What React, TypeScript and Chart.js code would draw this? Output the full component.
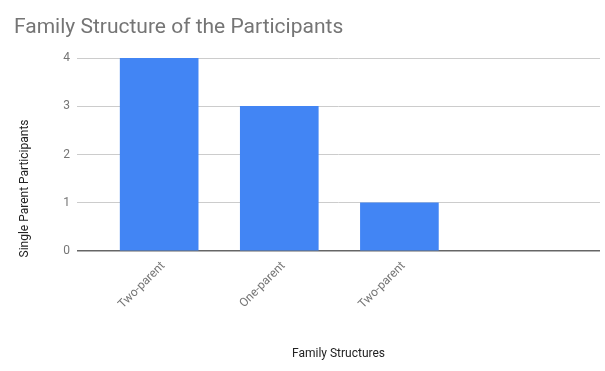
import React, { useEffect, useRef } from "react";
import { Chart, registerables } from "chart.js";

Chart.register(...registerables);

const categories = ["Two-parent", "One-parent", "Two-parent"];
const values = [4, 3, 1];
const yTicks = [0, 1, 2, 3, 4];
const chartTitle = "Family Structure of the Participants";
const xTitle = "Family Structures";
const yTitle = "Single Parent Participants";

const FONT = "Roboto, 'Noto Sans', Arial, sans-serif";

const titlesPlugin = {
  id: "titlesPlugin",
  afterDraw(chart: any) {
    const ctx = chart.ctx;
    const area = chart.chartArea;
    ctx.save();
    ctx.fillStyle = "#757575";
    ctx.font = `21px ${FONT}`;
    ctx.textAlign = "left";
    ctx.textBaseline = "alphabetic";
    ctx.fillText(chartTitle, 14, 33);

    ctx.fillStyle = "#222222";
    ctx.font = `12px ${FONT}`;
    ctx.textAlign = "center";
    ctx.fillText(xTitle, (area.left + area.right) / 2, 357);

    ctx.translate(28, 188.5);
    ctx.rotate(-Math.PI / 2);
    ctx.fillText(yTitle, 0, 0);
    ctx.restore();
  },
};

export default function App() {
  const ref = useRef<HTMLCanvasElement>(null);
  useEffect(() => {
    document.body.style.margin = "0";
    const chart = new Chart(ref.current!, {
      type: "bar",
      data: {
        datasets: [
          {
            data: values.map((v, i) => ({ x: i + 1, y: v })),
            backgroundColor: "#4285F4",
            borderWidth: 0,
            barThickness: 78,
          },
        ],
      },
      options: {
        animation: false,
        responsive: false,
        devicePixelRatio: 1,
        layout: { padding: { top: 58, right: 5, bottom: 0, left: 0 } },
        plugins: {
          legend: { display: false },
          title: { display: false },
          tooltip: { enabled: false },
        },
        scales: {
          x: {
            type: "linear",
            offset: false,
            min: 0.316,
            max: 4.67,
            afterBuildTicks: (scale: any) => {
              scale.ticks = categories.map((_, i) => ({ value: i + 1 }));
            },
            afterFit: (scale: any) => {
              scale.height = 120;
            },
            grid: { display: false, drawTicks: false, offset: false },
            border: { display: false },
            ticks: {
              autoSkip: false,
              minRotation: 45,
              maxRotation: 45,
              padding: 8,
              labelOffset: 4,
              color: "#757575",
              font: { family: FONT, size: 12 },
              callback: (v: any) => categories[Math.round(Number(v)) - 1] ?? "",
            },
          },
          y: {
            min: 0,
            max: 4,
            afterBuildTicks: (scale: any) => {
              scale.ticks = yTicks.map((v) => ({ value: v }));
            },
            afterFit: (scale: any) => {
              scale.width = 77;
            },
            grid: {
              drawTicks: false,
              color: (c: any) => (c.tick && c.tick.value === 0 ? "#666666" : "#cccccc"),
              lineWidth: (c: any) => (c.tick && c.tick.value === 0 ? 1.5 : 1),
            },
            border: { display: false },
            ticks: {
              padding: 7,
              color: "#757575",
              font: { family: FONT, size: 12 },
            },
          },
        },
      },
      plugins: [titlesPlugin],
    } as any);
    return () => chart.destroy();
  }, []);
  return (
    <div style={{ position: "absolute", left: 0, top: 0, width: 605, height: 371 }}>
      <canvas ref={ref} width={605} height={371} />
    </div>
  );
}
